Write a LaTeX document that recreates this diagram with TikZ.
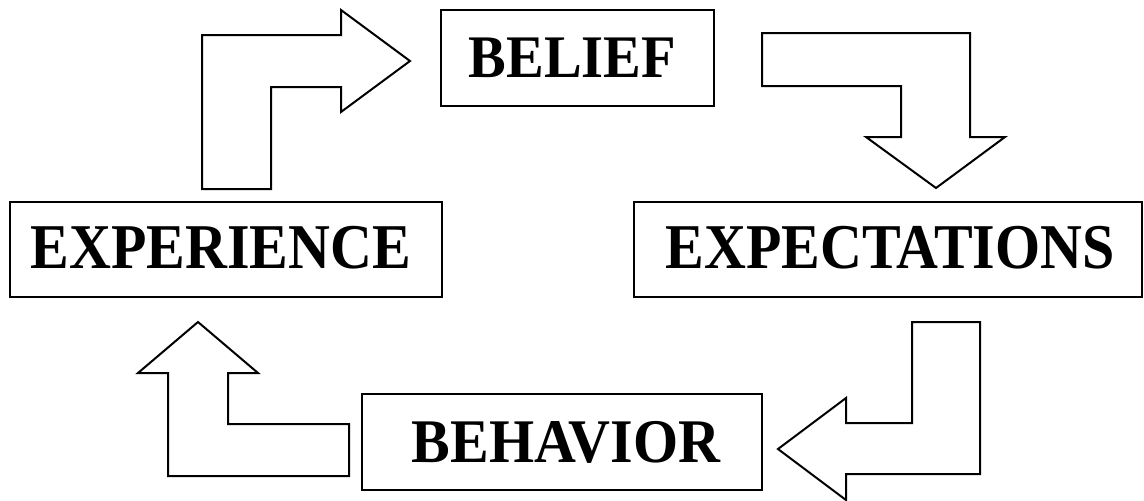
\documentclass[tikz,border=0pt]{standalone}
\usepackage{fontspec}
\setmainfont{Liberation Serif}
\tikzset{
  box/.style={draw, line width=1.8pt, rectangle, inner sep=0pt},
  lbltext/.style={inner sep=0pt, font=\bfseries\fontsize{58}{58}\selectfont},
  blockarrow/.style={draw, line width=2pt, line join=miter, fill=white}
}
\newcommand{\lbl}[1]{\scalebox{1}[1.07]{#1}}
\begin{document}
\begin{tikzpicture}[x=1pt,y=-1pt]
\useasboundingbox (0,0) rectangle (1144,501);
\node[box, minimum width=273pt, minimum height=96pt] (belief) at (577.5,58) {};
\node[lbltext, font=\bfseries\fontsize{56.5}{58}\selectfont] (belieft) at ([xshift=-5pt]belief.center) {\lbl{BELIEF}};
\node[box, minimum width=432pt, minimum height=95pt] (exper) at (226,249.5) {};
\node[lbltext] (expert) at ([xshift=-5pt,yshift=2pt]exper.center) {\scalebox{1}[1.1]{EXPERIENCE}};
\node[box, minimum width=508pt, minimum height=95pt] (expect) at (888,249.5) {};
\node[lbltext] (expectt) at ([xshift=2pt,yshift=2pt]expect.center) {\scalebox{1}[1.1]{EXPECTATIONS}};
\node[box, minimum width=400pt, minimum height=96pt] (behav) at (562,442) {};
\node[lbltext] (behavt) at ([xshift=4pt]behav.center) {\lbl{BEHAVIOR}};
% experience -> belief
\draw[blockarrow] (202,189) -- (202,35) -- (341,35) -- (341,10) -- (410,61) -- (341,112) -- (341,87) -- (271,87) -- (271,189) -- cycle;
% belief -> expectations
\draw[blockarrow] (762,33) -- (970,33) -- (970,137) -- (1005,137) -- (936,188) -- (866,137) -- (901,137) -- (901,86) -- (762,86) -- cycle;
% expectations -> behavior
\draw[blockarrow] (912,322) -- (980,322) -- (980,474) -- (846,474) -- (846,500) -- (778,449) -- (846,398) -- (846,423) -- (912,423) -- cycle;
% behavior -> experience
\draw[blockarrow] (168,476) -- (168,373) -- (138,373) -- (198,322) -- (258,373) -- (228,373) -- (228,424) -- (349,424) -- (349,476) -- cycle;
\end{tikzpicture}
\end{document}
